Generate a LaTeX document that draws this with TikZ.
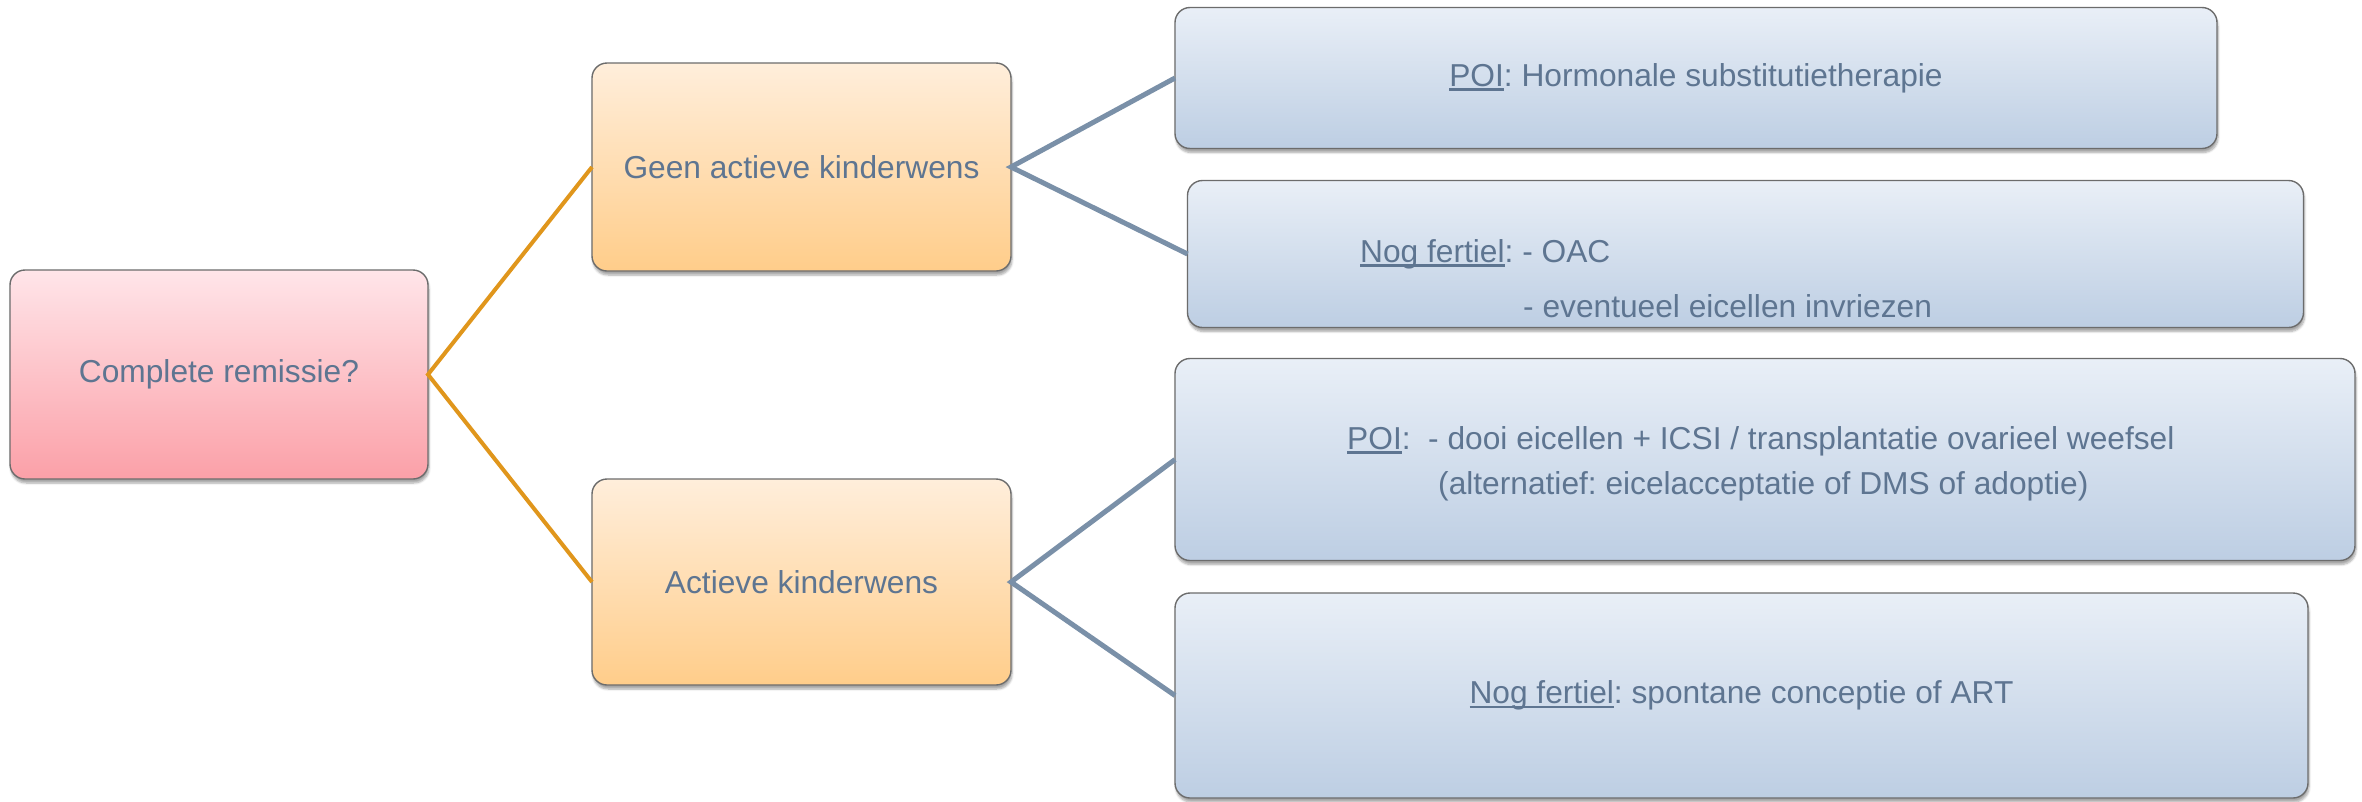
\documentclass[tikz,border=0pt]{standalone}
\usepackage{fontspec}
\setmainfont{Liberation Sans}
\usetikzlibrary{shadows.blur}
\frenchspacing

\definecolor{txt}{RGB}{94,117,145}
\definecolor{orangeline}{RGB}{224,150,28}
\definecolor{blueline}{RGB}{122,144,168}
\definecolor{pinktop}{RGB}{255,229,233}
\definecolor{pinkbot}{RGB}{251,160,168}
\definecolor{orgtop}{RGB}{255,238,219}
\definecolor{orgbot}{RGB}{255,205,138}
\definecolor{bluetop}{RGB}{233,239,247}
\definecolor{bluebot}{RGB}{189,206,227}
\definecolor{edge}{RGB}{108,108,108}

% underlined word with a fixed rule just under the baseline
\newlength\uwordlen
\newcommand\uword[1]{\settowidth{\uwordlen}{#1}\rlap{\rule[-4.5pt]{\uwordlen}{2.4pt}}#1}

\tikzset{
  box/.style={draw=edge, line width=1.4pt, rounded corners=15pt,
    inner sep=0pt, outer sep=0pt, text=txt,
    font=\fontsize{31.7pt}{38pt}\selectfont,
    blur shadow={shadow xshift=1pt, shadow yshift=-4pt, shadow opacity=35, shadow blur steps=6}},
  rootbox/.style={box, top color=pinktop, bottom color=pinkbot},
  midbox/.style={box, top color=orgtop, bottom color=orgbot},
  leafbox/.style={box, top color=bluetop, bottom color=bluebot},
  label/.style={text=txt, inner sep=0pt, font=\fontsize{31.7pt}{38pt}\selectfont},
  orangelink/.style={draw=orangeline, line width=4pt},
  bluelink/.style={draw=blueline, line width=5pt},
}

\begin{document}
\begin{tikzpicture}[x=1pt, y=-1pt]
\useasboundingbox (0,0) rectangle (2362,801);

% first level
\node[rootbox, minimum width=418pt, minimum height=209pt] (root) at (219,374.5) {Complete remissie?};

% second level
\node[midbox, minimum width=419pt, minimum height=208pt] (geen) at (801.5,167) {Geen actieve kinderwens};
\node[midbox, minimum width=419pt, minimum height=206pt] (act) at (801.5,582) {Actieve kinderwens};

% third level
\node[leafbox, minimum width=1042pt, minimum height=141pt] (poi1) at (1696,78)
  {\uword{POI}: Hormonale substitutietherapie};
\node[leafbox, minimum width=1116pt, minimum height=147pt] (nf1) at (1745.5,254) {};
\node[leafbox, minimum width=1180pt, minimum height=202pt] (poi2) at (1765,459.5) {};
\node[leafbox, minimum width=1133pt, minimum height=205pt] (nf2) at (1741.5,695.5)
  {\uword{Nog fertiel}: spontane conceptie of ART};

% multi-line texts of the leaf boxes
\node[label, anchor=base west] (nf1a) at (1360,262) {\uword{Nog fertiel}: - OAC};
\node[label, anchor=base west] (nf1b) at (1523,317) {- eventueel eicellen invriezen};
\node[label, anchor=base west] (poi2a) at (1347,449)
  {\uword{POI}:\ \ - dooi eicellen + ICSI / transplantatie ovarieel weefsel};
\node[label, anchor=base west] (poi2b) at (1438,494)
  {(alternatief: eicelacceptatie of DMS of adoptie)};

% connectors
\draw[orangelink] (geen.west) -- (root.east) -- (act.west);
\draw[bluelink] (poi1.west) -- (geen.east) -- (nf1.west);
\draw[bluelink] (poi2.west) -- (act.east) -- (nf2.west);
\end{tikzpicture}
\end{document}
